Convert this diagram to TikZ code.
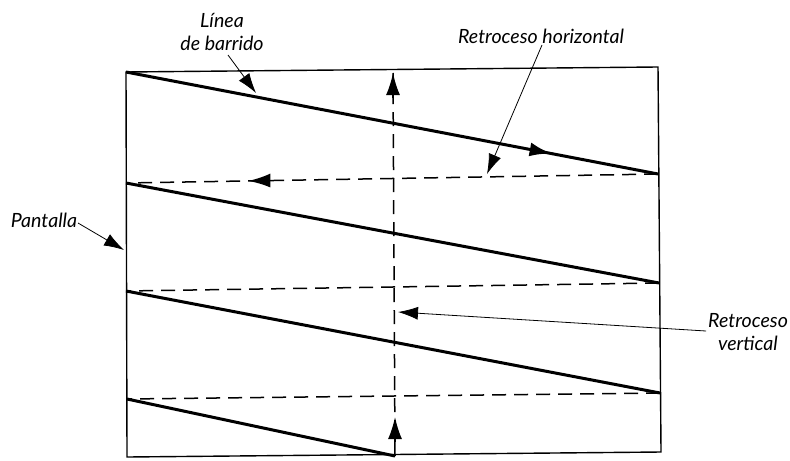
\documentclass[tikz,border=0pt]{standalone}
\usepackage{fontspec}
\setmainfont{Lato}
\usetikzlibrary{arrows.meta,decorations.markings}
\begin{document}
\begin{tikzpicture}[x=0.5pt,y=-0.5pt,
  frame/.style={line width=0.7pt},
  scan/.style={line width=1.5pt},
  retrace/.style={line width=0.75pt,dash pattern=on 7pt off 4pt},
  lbl/.style={font=\itshape\fontsize{9.8}{11.5}\selectfont,align=center,inner sep=1pt},
  pointer/.style={line width=0.4pt,-{Latex[length=10pt,width=6.5pt]}},
  midarrow/.style={postaction={decorate},decoration={markings,
     mark=at position #1 with {\arrow{Latex[length=11pt,width=7pt]}}}}
]
\useasboundingbox (0,0) rectangle (790,460);
% frame corners
\coordinate (TL) at (126,72);
\coordinate (TR) at (658,67);
\coordinate (BR) at (661,452);
\coordinate (BL) at (127,457);
\draw[frame] (TL) -- (TR) -- (BR) -- (BL) -- cycle;
% scan line end points
\coordinate (L1) at (126,72);
\coordinate (R1) at (658,174);
\coordinate (L2) at (126,183);
\coordinate (R2) at (659,283);
\coordinate (L3) at (126,291);
\coordinate (R3) at (660,393);
\coordinate (L4) at (127,399);
\coordinate (B4) at (395,456);
% solid scan lines
\draw[scan,midarrow=0.80] (L1) -- (R1);
\draw[scan] (L2) -- (R2);
\draw[scan] (L3) -- (R3);
\draw[scan] (L4) -- (B4);
% horizontal retraces
\draw[retrace,midarrow=0.77] (R1) -- (L2);
\draw[retrace] (R2) -- (L3);
\draw[retrace] (R3) -- (L4);
% vertical retrace
\coordinate (VT) at (393,73);
\draw[retrace] (B4) -- (VT);
\draw[line width=0.75pt,-{Latex[length=11pt,width=7pt]}] (395,442) -- (395,417);
\draw[line width=0.75pt,-{Latex[length=11pt,width=7pt]}] (393,98) -- (VT);
% labels
\node[lbl] (linea) at (222,32) {Línea\\de barrido};
\node[lbl] (rh) at (541,36) {Retroceso horizontal};
\node[lbl] (pant) at (44,220) {Pantalla};
\node[lbl] (rv) at (748,332) {Retroceso\\vertical};
% pointers
\coordinate (p1) at (256,93);
\coordinate (p2) at (487,174);
\coordinate (p3) at (124,250);
\coordinate (p4) at (398,312);
\draw[pointer] (228,55) -- (p1);
\draw[pointer] (542,45) -- (p2);
\draw[pointer] (78,223) -- (p3);
\draw[pointer] (706,331) -- (p4);
\end{tikzpicture}
\end{document}
